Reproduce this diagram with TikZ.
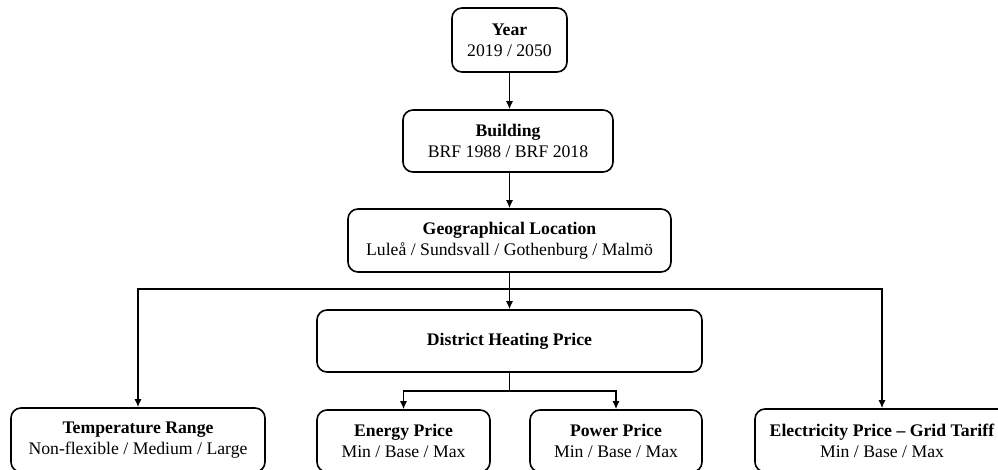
\documentclass[tikz,border=0pt]{standalone}
\usepackage{fontspec}
\setmainfont{Liberation Serif}
\usetikzlibrary{arrows.meta}
\tikzset{
  box/.style={draw=black, line width=1.6pt, rounded corners=10pt, fill=white,
    align=center, inner sep=0pt, font=\fontsize{17.7}{21}\selectfont},
  conn/.style={line width=1.4pt, draw=black},
  arr/.style={conn, -{Latex[length=8pt,width=7pt]}}
}
\begin{document}
\begin{tikzpicture}[x=1pt,y=-1pt]
\useasboundingbox (0,0) rectangle (998,470);
\clip (0,0) rectangle (998,470);
\fill[white] (0,0) rectangle (998,470);
\node[box, minimum width=115pt, minimum height=64pt] (year) at (509.5,40) {\textbf{Year}\\2019 / 2050};
\node[box, minimum width=210pt, minimum height=62pt] (bldg) at (508,141) {\textbf{Building}\\BRF 1988 / BRF 2018};
\node[box, minimum width=323pt, minimum height=63pt] (geo) at (509.5,240.5) {\textbf{Geographical Location}\\Luleå / Sundsvall / Gothenburg / Malmö};
\node[box, minimum width=385pt, minimum height=62pt] (dhp) at (509.5,341) {\textbf{District Heating Price}};
\node[box, minimum width=254pt, minimum height=64pt] (temp) at (138,440) {\textbf{Temperature Range}\\Non-flexible / Medium / Large};
\node[box, minimum width=173pt, minimum height=62pt] (energy) at (403.5,441) {\textbf{Energy Price}\\Min / Base / Max};
\node[box, minimum width=172pt, minimum height=62pt] (power) at (616,441) {\textbf{Power Price}\\Min / Base / Max};
\node[box, minimum width=254pt, minimum height=63pt] (elec) at (882,440.5) {\textbf{Electricity Price – Grid Tariff}\\Min / Base / Max};
\coordinate (j1) at (509.5,289);
\coordinate (j2) at (509.5,391);
\draw[arr] (year.south) -- (year.south |- bldg.north);
\draw[arr] (bldg.south -| geo.north) -- (geo.north);
\draw[arr] (geo.south) -- (dhp.north);
\draw[arr] (j1) -| (temp.north);
\draw[arr] (j1) -| (elec.north);
\draw[conn] (dhp.south) -- (j2);
\draw[arr] (j2) -| (energy.north);
\draw[arr] (j2) -| (power.north);
\end{tikzpicture}
\end{document}
